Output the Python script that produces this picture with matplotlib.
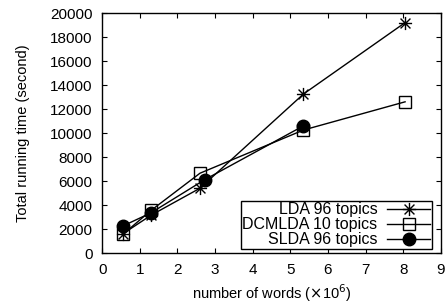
import numpy as np
import matplotlib
matplotlib.use('Agg')
import matplotlib.pyplot as plt
from matplotlib.path import Path

#-------------------------------------------------------------------------------
# DATA

#number of words (x10^6)
x_lda = [0.55, 1.3, 2.6, 5.35, 8.05]
x_dcm = [0.55, 1.3, 2.6, 5.35, 8.05]
x_slda = [0.55, 1.3, 2.72, 5.35]

#running time (s)
t_lda = [1600, 3150, 5400, 13250, 19200]
t_dcm = [1550, 3550, 6650, 10250, 12600]
t_slda = [2250, 3350, 6100, 10600]

labels = ['LDA 96 topics', 'DCMLDA 10 topics', 'SLDA 96 topics']

xticks = list(range(0, 10))
yticks = list(range(0, 20001, 2000))

#-------------------------------------------------------------------------------
# STYLE

plt.rcParams['font.family'] = ['Liberation Sans', 'DejaVu Sans']
plt.rcParams['font.size'] = 11

#gnuplot-like asterisk: plus overlaid with a cross
star = Path([(0, -1), (0, 1), (-1, 0), (1, 0),
             (-0.75, -0.75), (0.75, 0.75), (-0.75, 0.75), (0.75, -0.75)],
            [Path.MOVETO, Path.LINETO] * 4)

#-------------------------------------------------------------------------------
# MAIN

fig = plt.figure(figsize=(4.48, 3.03), dpi=100)
ax = fig.add_axes([0.228, 0.165, 0.756, 0.792])

ax.plot(x_lda, t_lda, color='k', lw=1, marker=star, ms=9.5, mew=1,
        label=labels[0])
ax.plot(x_dcm, t_dcm, color='k', lw=1, marker='s', ms=9, mew=1,
        mfc='none', label=labels[1])
ax.plot(x_slda, t_slda, color='k', lw=1, marker='o', ms=9, mew=1,
        label=labels[2])

ax.set_xlim(0, 9)
ax.set_ylim(0, 20000)
ax.set_xticks(xticks)
ax.set_yticks(yticks)
ax.tick_params(direction='in', top=True, right=True, length=3.5, width=0.8,
               pad=7, labelsize=11)
for s in ax.spines.values():
    s.set_linewidth(1)

ax.set_xlabel('number of words ($\\times$10$^6$)', fontsize=10.5, labelpad=4)
ax.set_ylabel('Total running time (second)', fontsize=10.5, labelpad=14)

#markerfirst=False right-aligns the labels against the handles
leg = ax.legend(loc='lower right', bbox_to_anchor=(0.973, 0.017),
                borderaxespad=0, markerfirst=False, handlelength=2.7,
                labelspacing=0.0, borderpad=0.1, handletextpad=0.6,
                fontsize=11.5, fancybox=False, framealpha=1)
leg.get_frame().set_edgecolor('k')
leg.get_frame().set_linewidth(1)

fig.savefig('out.png', dpi=100)
